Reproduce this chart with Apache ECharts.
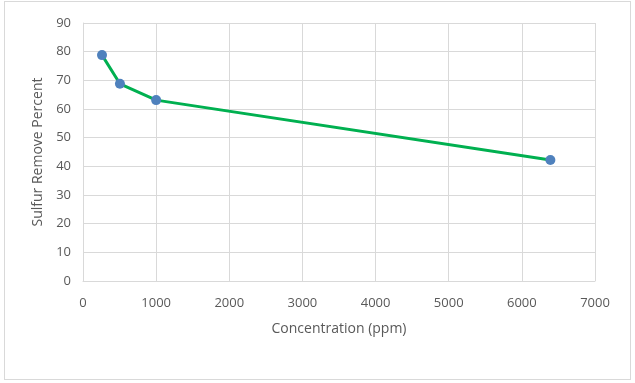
<!DOCTYPE html>
<html><head><meta charset="utf-8">
<script src="https://cdn.jsdelivr.net/npm/echarts@6/dist/echarts.min.js"></script>
<style>
html,body{margin:0;padding:0;background:#fff;}
#frame{position:absolute;left:4px;top:1px;width:625px;height:377px;border:1px solid #d9d9d9;}
#c{position:absolute;left:0;top:0;width:635px;height:383px;}
</style></head><body>
<div id="frame"></div>
<div id="c"></div>
<script>
const concentration = [260, 505, 1000, 6390];
const removal = [78.8, 68.8, 63.1, 42.2];
const xTicks = [0, 7000, 1000];
const yTicks = [0, 90, 10];

const chart = echarts.init(document.getElementById('c'));
const font = 'Open Sans, Liberation Sans, sans-serif';
chart.setOption({
  animation: false,
  backgroundColor: 'transparent',
  grid: {left: 83, right: 40, top: 23, bottom: 102},
  xAxis: {
    type: 'value', min: xTicks[0], max: xTicks[1], interval: xTicks[2],
    name: 'Concentration (ppm)', nameLocation: 'middle', nameGap: 41,
    nameTextStyle: {color: '#595959', fontSize: 14, fontFamily: font},
    axisLine: {show: true, lineStyle: {color: '#d9d9d9'}},
    axisTick: {show: false},
    axisLabel: {color: '#595959', fontSize: 13, fontFamily: font, margin: 16, formatter: v => String(v)},
    splitLine: {show: true, lineStyle: {color: '#d9d9d9'}}
  },
  yAxis: {
    type: 'value', min: yTicks[0], max: yTicks[1], interval: yTicks[2],
    name: 'Sulfur Remove Percent', nameLocation: 'middle', nameGap: 36,
    nameTextStyle: {color: '#595959', fontSize: 14, fontFamily: font},
    axisLine: {show: true, lineStyle: {color: '#d9d9d9'}},
    axisTick: {show: false},
    axisLabel: {color: '#595959', fontSize: 13, fontFamily: font, margin: 12},
    splitLine: {show: true, lineStyle: {color: '#d9d9d9'}}
  },
  series: [{
    type: 'line',
    data: concentration.map((x, i) => [x, removal[i]]),
    symbol: 'circle', symbolSize: 10,
    lineStyle: {color: '#00b050', width: 3},
    itemStyle: {color: '#4f81bd'},
    z: 3
  }]
});
</script>
</body></html>
